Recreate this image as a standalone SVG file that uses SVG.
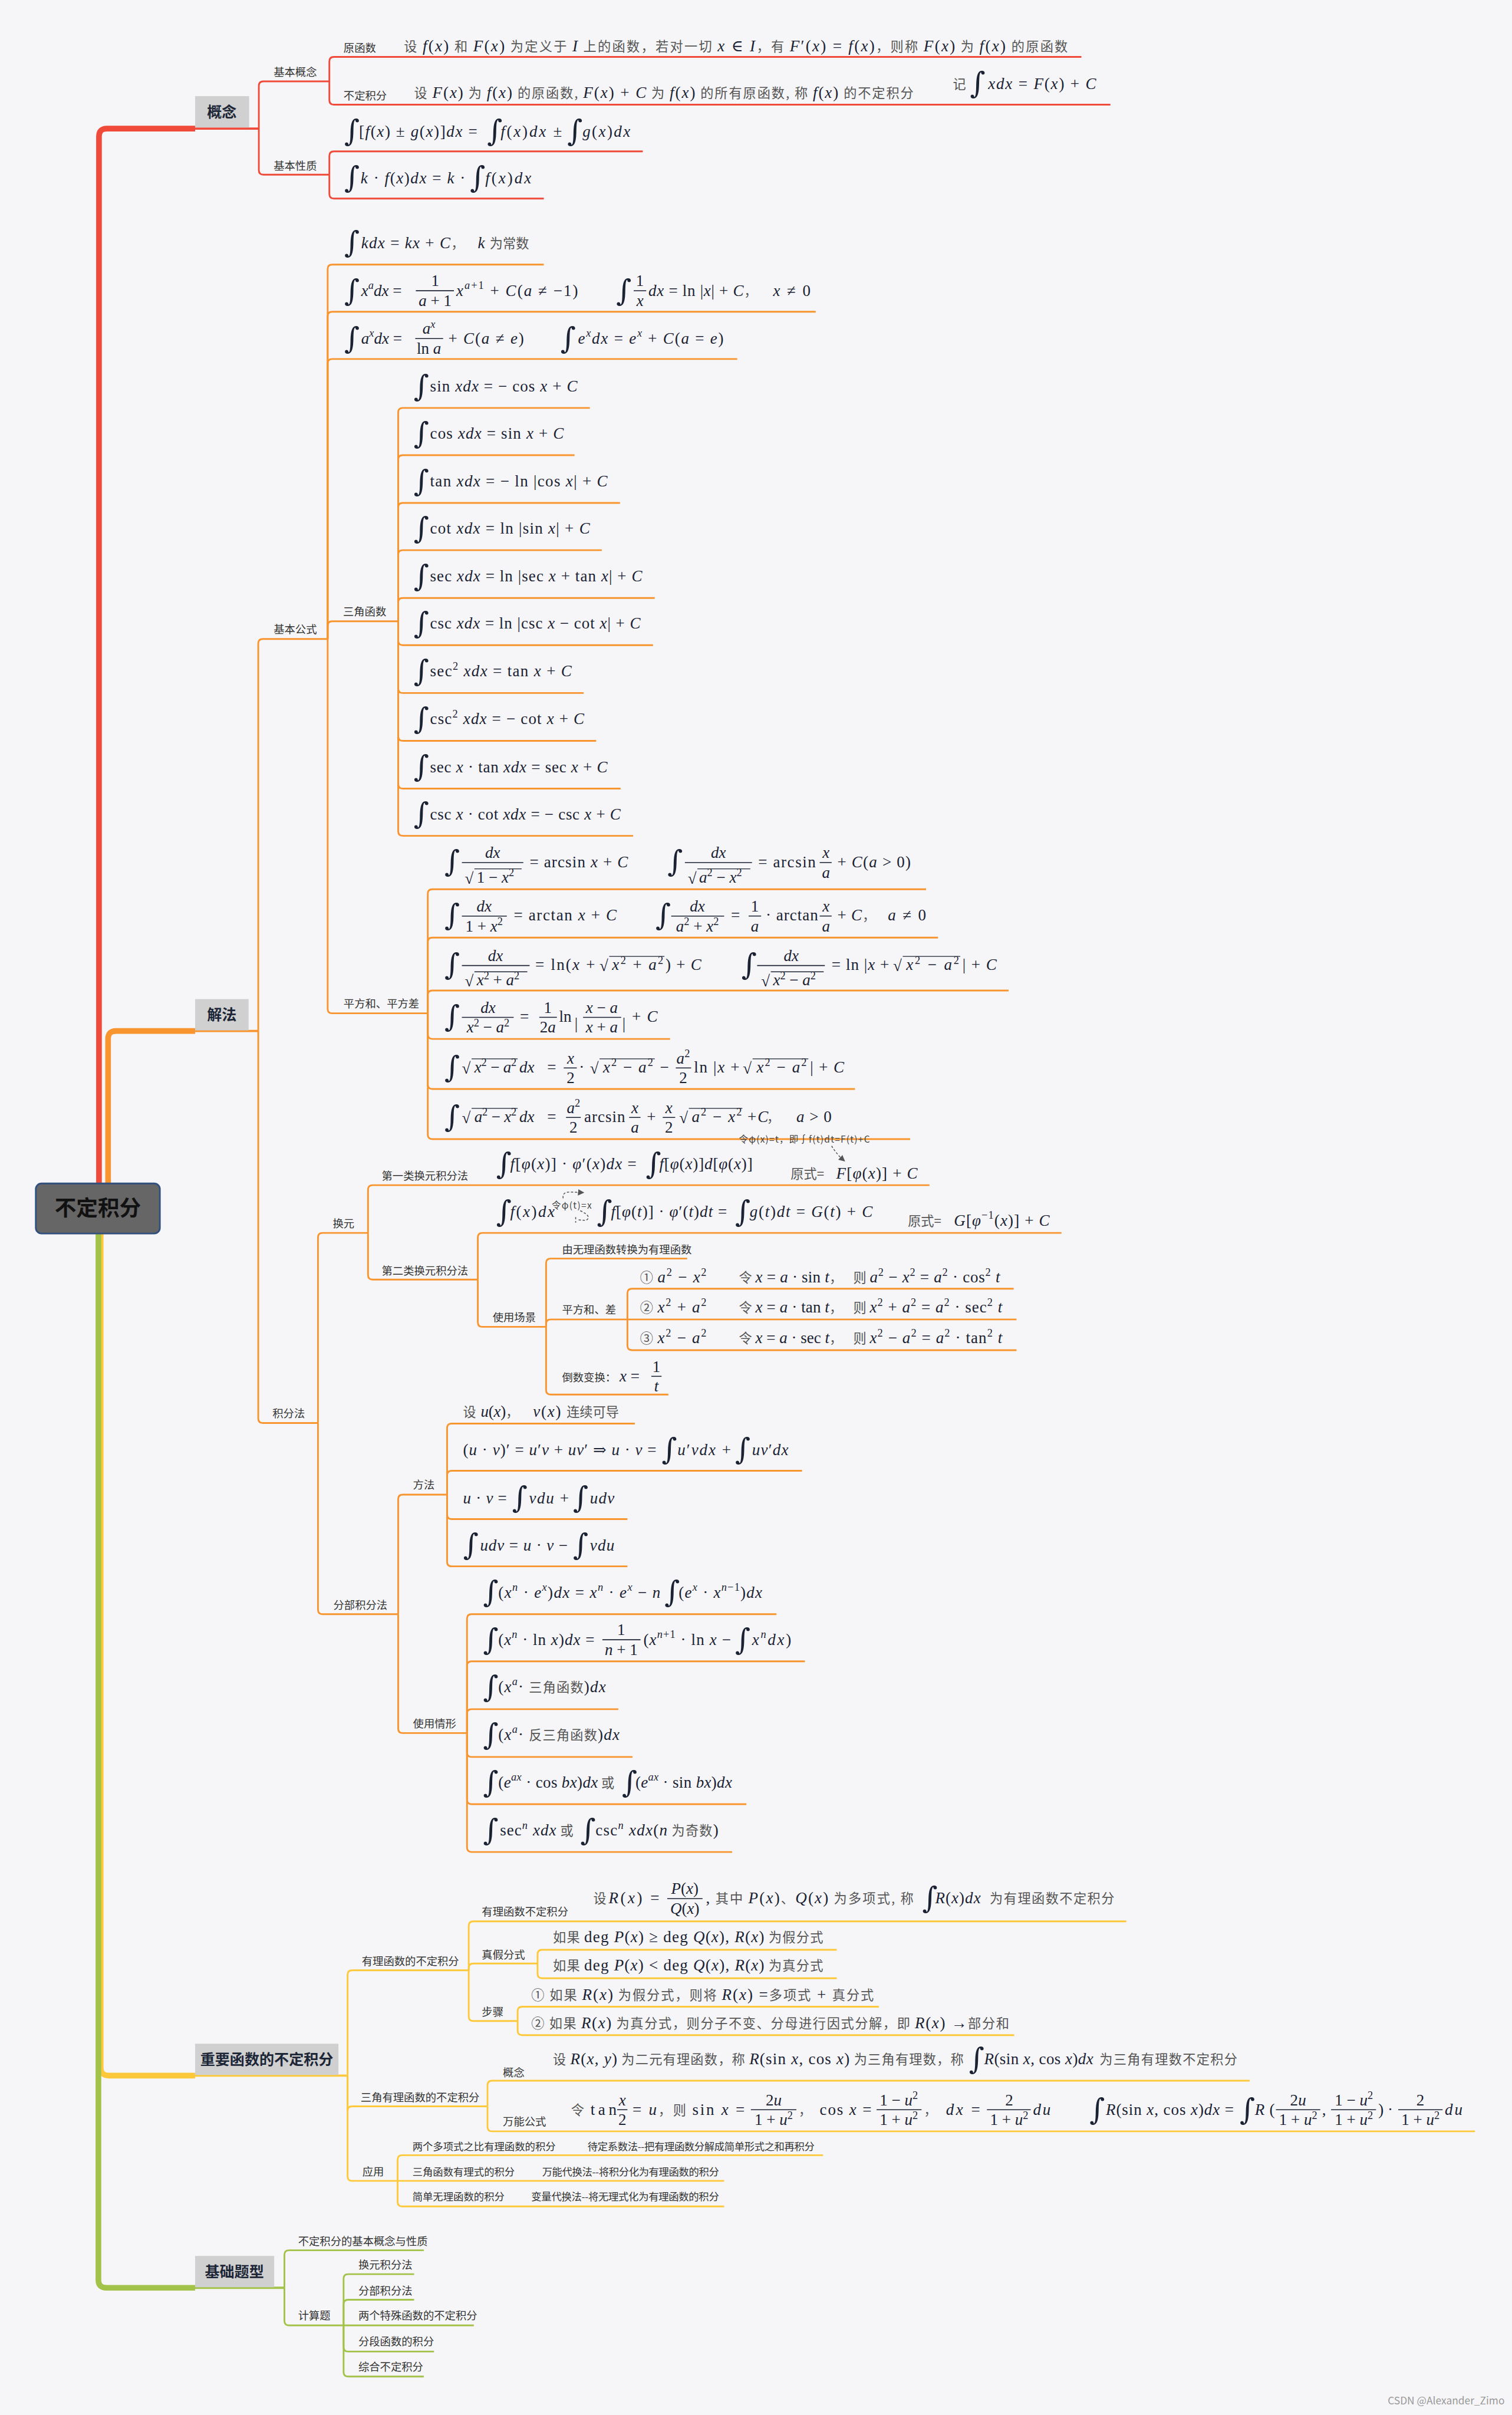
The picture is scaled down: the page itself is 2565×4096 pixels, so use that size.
<svg xmlns="http://www.w3.org/2000/svg" width="2565" height="4096" viewBox="0 0 2565 4096">
<defs>
<style>
.m{font-family:"Liberation Serif","DejaVu Serif",serif;font-size:28px;fill:#1a2233}
.i{font-style:italic}
.s{font-size:19px}
.z{font-family:"Noto Sans CJK SC","Noto Sans",sans-serif;font-size:23px;fill:#555;font-style:normal}
.g{font-family:"DejaVu Serif",serif;font-size:52px;fill:#1a2233}
.l{font-family:"Noto Sans CJK SC","Noto Sans",sans-serif;font-size:19px;fill:#333}
.p{font-family:"Noto Sans CJK SC","Noto Sans",sans-serif;font-size:18px;fill:#333}
.a{font-family:"Noto Sans CJK SC","Noto Sans",sans-serif;font-size:16px;fill:#444}
.t{font-family:"Noto Sans CJK SC","Noto Sans",sans-serif;font-size:26px;font-weight:bold;fill:#1c2636;text-anchor:middle}
.c{text-anchor:middle}
.fb{stroke:#1a2233;stroke-width:1.6}
.ov{stroke:#1a2233;stroke-width:1.4}
.cr{fill:none;stroke:#f04a3a;stroke-width:3}
.co{fill:none;stroke:#f8952e;stroke-width:3}
.cy{fill:none;stroke:#fdc93b;stroke-width:3}
.cg{fill:none;stroke:#a3c24a;stroke-width:3}
.box{fill:#d0d0d0}
.da{fill:none;stroke:#555;stroke-width:1.6;stroke-dasharray:4 3}
</style>
<marker id="ah" viewBox="0 0 10 10" refX="8" refY="5" markerWidth="7" markerHeight="7" orient="auto"><path d="M0,0 L10,5 L0,10 z" fill="#555"/></marker>
</defs>
<rect width="2565" height="4096" fill="#f6f6f8"/>
<g transform="scale(0.965)">

<g id="connectors">
<path d="M177,2168 V3634 Q177,3648 191,3648 H343" fill="none" stroke="#fdc93b" stroke-width="10"/>
<path d="M173,2168 V4007 Q173,4021 187,4021 H343" fill="none" stroke="#a3c24a" stroke-width="10"/>
<path d="M174,2080 V240 Q174,226 188,226 H343" fill="none" stroke="#f04a3a" stroke-width="10"/>
<path d="M190,2080 V1826 Q190,1812 204,1812 H343" fill="none" stroke="#f8952e" stroke-width="10"/>
<path d="M343,226 H455" fill="none" stroke="#f04a3a" stroke-width="4"/>
<path d="M343,1812 H454" fill="none" stroke="#f8952e" stroke-width="4"/>
<path d="M343,3648 H611" fill="none" stroke="#fdc93b" stroke-width="4"/>
<path d="M343,4021 H500" fill="none" stroke="#a3c24a" stroke-width="4"/>
<g class="cr">
<path d="M455,226 V151 Q455,143 463,143 H579"/>
<path d="M455,226 V299 Q455,307 463,307 H579"/>
<path d="M579,143 V108 Q579,100 587,100 H1901"/>
<path d="M579,143 V176 Q579,184 587,184 H1952"/>
<path d="M579,307 V274 Q579,266 587,266 H1130"/>
<path d="M579,307 V341 Q579,349 587,349 H956"/>
</g>
<g class="co">
<path d="M454,1812 V1131 Q454,1123 462,1123 H576"/>
<path d="M454,1812 V2493 Q454,2501 462,2501 H559"/>
<path d="M576,1123 V473 Q576,465 584,465 H956"/>
<path d="M576,1123 V556 Q576,548 584,548 H1434"/>
<path d="M576,1123 V639 Q576,631 584,631 H1296"/>
<path d="M576,1123 V1100 Q576,1092 584,1092 H700"/>
<path d="M576,1123 V1773 Q576,1781 584,1781 H752"/>
<path d="M700,1092 V725 Q700,717 708,717 H1037"/>
<path d="M700,1092 V808 Q700,800 708,800 H1010"/>
<path d="M700,1092 V892 Q700,884 708,884 H1090"/>
<path d="M700,1092 V975 Q700,967 708,967 H1058"/>
<path d="M700,1092 V1059 Q700,1051 708,1051 H1151"/>
<path d="M700,1092 V1126 Q700,1134 708,1134 H1148"/>
<path d="M700,1092 V1210 Q700,1218 708,1218 H1026"/>
<path d="M700,1092 V1294 Q700,1302 708,1302 H1048"/>
<path d="M700,1092 V1378 Q700,1386 708,1386 H1091"/>
<path d="M700,1092 V1461 Q700,1469 708,1469 H1113"/>
<path d="M752,1781 V1571 Q752,1563 760,1563 H1628"/>
<path d="M752,1781 V1656 Q752,1648 760,1648 H1649"/>
<path d="M752,1781 V1749 Q752,1741 760,1741 H1773"/>
<path d="M752,1781 V1818 Q752,1826 760,1826 H1178"/>
<path d="M752,1781 V1906 Q752,1914 760,1914 H1503"/>
<path d="M752,1781 V1994 Q752,2002 760,2002 H1600"/>
<path d="M559,2501 V2175 Q559,2167 567,2167 H647"/>
<path d="M559,2501 V2829 Q559,2837 567,2837 H700"/>
<path d="M647,2167 V2091 Q647,2083 655,2083 H1634"/>
<path d="M647,2167 V2241 Q647,2249 655,2249 H840"/>
<path d="M840,2249 V2175 Q840,2167 848,2167 H1866"/>
<path d="M840,2249 V2324 Q840,2332 848,2332 H960"/>
<path d="M960,2332 V2220 Q960,2212 968,2212 H1208"/>
<path d="M960,2332 V2327 Q960,2319 968,2319 H1103"/>
<path d="M960,2332 V2443 Q960,2451 968,2451 H1175"/>
<path d="M1103,2319 V2273 Q1103,2265 1111,2265 H1782"/>
<path d="M1103,2319 H1787"/>
<path d="M1103,2319 V2365 Q1103,2373 1111,2373 H1787"/>
<path d="M700,2837 V2635 Q700,2627 708,2627 H786"/>
<path d="M700,2837 V3038 Q700,3046 708,3046 H821"/>
<path d="M786,2627 V2510 Q786,2502 794,2502 H1116"/>
<path d="M786,2627 V2593 Q786,2585 794,2585 H1410"/>
<path d="M786,2627 V2662 Q786,2670 794,2670 H1103"/>
<path d="M786,2627 V2745 Q786,2753 794,2753 H1103"/>
<path d="M821,3046 V2845 Q821,2837 829,2837 H1365"/>
<path d="M821,3046 V2928 Q821,2920 829,2920 H1415"/>
<path d="M821,3046 V3012 Q821,3004 829,3004 H1087"/>
<path d="M821,3046 V3080 Q821,3088 829,3088 H1112"/>
<path d="M821,3046 V3163 Q821,3171 829,3171 H1312"/>
<path d="M821,3046 V3247 Q821,3255 829,3255 H1287"/>
</g>
<g class="cy">
<path d="M611,3648 V3471 Q611,3463 619,3463 H824"/>
<path d="M611,3648 V3710 Q611,3702 619,3702 H857"/>
<path d="M611,3648 V3825 Q611,3833 619,3833 H699"/>
<path d="M824,3463 V3385 Q824,3377 832,3377 H1980"/>
<path d="M824,3463 V3459 Q824,3451 832,3451 H945"/>
<path d="M824,3463 V3544 Q824,3552 832,3552 H910"/>
<path d="M945,3451 V3435 Q945,3427 953,3427 H1471"/>
<path d="M945,3451 V3469 Q945,3477 953,3477 H1471"/>
<path d="M910,3552 V3535 Q910,3527 918,3527 H1545"/>
<path d="M910,3552 V3569 Q910,3577 918,3577 H1783"/>
<path d="M857,3702 V3665 Q857,3657 865,3657 H2197"/>
<path d="M857,3702 V3738 Q857,3746 865,3746 H2593"/>
<path d="M699,3833 V3796 Q699,3788 707,3788 H1447"/>
<path d="M699,3833 H1273"/>
<path d="M699,3833 V3870 Q699,3878 707,3878 H1273"/>
</g>
<g class="cg">
<path d="M500,4021 V3963 Q500,3955 508,3955 H745"/>
<path d="M500,4021 V4079 Q500,4087 508,4087 H604"/>
<path d="M604,4087 V4005 Q604,3997 612,3997 H728"/>
<path d="M604,4087 V4050 Q604,4042 612,4042 H728"/>
<path d="M604,4087 H833"/>
<path d="M604,4087 V4125 Q604,4133 612,4133 H763"/>
<path d="M604,4087 V4169 Q604,4177 612,4177 H745"/>
</g>
<path class="da" d="M1462,2014 Q1470,2028 1484,2040" marker-end="url(#ah)"/>
<path class="da" d="M990,2106 Q988,2095 1002,2095 L1025,2096" marker-end="url(#ah)"/>
<path class="da" d="M1020,2128 Q1042,2138 1030,2145 L1015,2144"/>
<path class="da" d="M1012,2139 V2149"/>
</g>

<g id="root">
<rect x="63" y="2080" width="218" height="88" rx="10" fill="#666666" stroke="#32507e" stroke-width="3"/>
<text x="172" y="2137" text-anchor="middle" font-family="Noto Sans CJK SC, sans-serif" font-size="38" font-weight="bold" fill="#111">不定积分</text>
</g>

<g id="n-gainian"><rect class="box" x="343" y="169" width="95" height="55"/><text class="t" x="390" y="206">概念</text></g>
<g id="n-jiefa"><rect class="box" x="343" y="1756" width="94" height="55"/><text class="t" x="390" y="1793">解法</text></g>
<g id="n-zhongyao"><rect class="box" x="343" y="3592" width="252" height="55"/><text class="t" x="469" y="3629">重要函数的不定积分</text></g>
<g id="n-jichu"><rect class="box" x="343" y="3965" width="139" height="55"/><text class="t" x="412" y="4002">基础题型</text></g>

<g id="n-labels">
<text class="l" x="481" y="134">基本概念</text>
<text class="l" x="481" y="298">基本性质</text>
<text class="l" x="604" y="91">原函数</text>
<text class="l" x="604" y="175">不定积分</text>
<text class="l" x="481" y="1113">基本公式</text>
<text class="l" x="603" y="1082">三角函数</text>
<text class="l" x="604" y="1771">平方和、平方差</text>
<text class="l" x="479" y="2491">积分法</text>
<text class="l" x="585" y="2157">换元</text>
<text class="l" x="671" y="2074">第一类换元积分法</text>
<text class="l" x="671" y="2240">第二类换元积分法</text>
<text class="l" x="866" y="2322">使用场景</text>
<text class="l" x="988" y="2203">由无理函数转换为有理函数</text>
<text class="l" x="988" y="2309">平方和、差</text>
<text class="l" x="988" y="2428">倒数变换：</text>
<text class="l" x="586" y="2828">分部积分法</text>
<text class="l" x="726" y="2617">方法</text>
<text class="l" x="726" y="3036">使用情形</text>
<text class="l" x="636" y="3454">有理函数的不定积分</text>
<text class="l" x="847" y="3367">有理函数不定积分</text>
<text class="l" x="847" y="3442">真假分式</text>
<text class="l" x="847" y="3543">步骤</text>
<text class="l" x="634" y="3693">三角有理函数的不定积分</text>
<text class="l" x="884" y="3650">概念</text>
<text class="l" x="884" y="3736">万能公式</text>
<text class="l" x="637" y="3824">应用</text>
<text class="l" x="524" y="3946">不定积分的基本概念与性质</text>
<text class="l" x="524" y="4077">计算题</text>
<text class="l" x="630" y="3988">换元积分法</text>
<text class="l" x="630" y="4033">分部积分法</text>
<text class="l" x="630" y="4077">两个特殊函数的不定积分</text>
<text class="l" x="630" y="4122">分段函数的积分</text>
<text class="l" x="630" y="4167">综合不定积分</text>
</g>

<g id="n-concept">
<text class="m" x="710" y="90" textLength="1167"><tspan class="z">设 </tspan><tspan class="i">f</tspan>(<tspan class="i">x</tspan>)<tspan class="z"> 和 </tspan><tspan class="i">F</tspan>(<tspan class="i">x</tspan>)<tspan class="z"> 为定义于 </tspan><tspan class="i">I</tspan><tspan class="z"> 上的函数，若对一切 </tspan><tspan class="i">x</tspan> ∈ <tspan class="i">I</tspan><tspan class="z">，有 </tspan><tspan class="i">F</tspan>′(<tspan class="i">x</tspan>) = <tspan class="i">f</tspan>(<tspan class="i">x</tspan>)<tspan class="z">，则称 </tspan><tspan class="i">F</tspan>(<tspan class="i">x</tspan>)<tspan class="z"> 为 </tspan><tspan class="i">f</tspan>(<tspan class="i">x</tspan>)<tspan class="z"> 的原函数</tspan></text>
<text class="m" x="728" y="172" textLength="878"><tspan class="z">设 </tspan><tspan class="i">F</tspan>(<tspan class="i">x</tspan>)<tspan class="z"> 为 </tspan><tspan class="i">f</tspan>(<tspan class="i">x</tspan>)<tspan class="z"> 的原函数, </tspan><tspan class="i">F</tspan>(<tspan class="i">x</tspan>) + <tspan class="i">C</tspan><tspan class="z"> 为 </tspan><tspan class="i">f</tspan>(<tspan class="i">x</tspan>)<tspan class="z"> 的所有原函数, 称 </tspan><tspan class="i">f</tspan>(<tspan class="i">x</tspan>)<tspan class="z"> 的不定积分</tspan></text>
<text class="z" x="1675" y="156">记</text>
<text class="g" x="1705" y="164">∫</text>
<text class="m" x="1737" y="156" textLength="190"><tspan class="i">xdx</tspan> = <tspan class="i">F</tspan>(<tspan class="i">x</tspan>) + <tspan class="i">C</tspan></text>
<text class="g" x="605" y="248">∫</text>
<text class="m" x="631" y="240" textLength="208">[<tspan class="i">f</tspan>(<tspan class="i">x</tspan>) ± <tspan class="i">g</tspan>(<tspan class="i">x</tspan>)]<tspan class="i">dx</tspan> =</text>
<text class="g" x="856" y="248">∫</text>
<text class="m" x="880" y="240" textLength="108"><tspan class="i">f</tspan>(<tspan class="i">x</tspan>)<tspan class="i">dx</tspan> ±</text>
<text class="g" x="997" y="248">∫</text>
<text class="m" x="1024" y="240" textLength="84"><tspan class="i">g</tspan>(<tspan class="i">x</tspan>)<tspan class="i">dx</tspan></text>
<text class="g" x="605" y="330">∫</text>
<text class="m" x="634" y="322" textLength="184"><tspan class="i">k</tspan> · <tspan class="i">f</tspan>(<tspan class="i">x</tspan>)<tspan class="i">dx</tspan> = <tspan class="i">k</tspan> ·</text>
<text class="g" x="826" y="330">∫</text>
<text class="m" x="853" y="322" textLength="81"><tspan class="i">f</tspan>(<tspan class="i">x</tspan>)<tspan class="i">dx</tspan></text>
</g>

<g id="n-basic">
<text class="g" x="605" y="444">∫</text>
<text class="m" x="635" y="436" textLength="181"><tspan class="i">kdx</tspan> = <tspan class="i">kx</tspan> + <tspan class="i">C</tspan><tspan class="z">，</tspan></text>
<text class="m i" x="840" y="436">k</text><text class="z" x="861" y="436">为常数</text>

<text class="g" x="605" y="528">∫</text>
<text class="m" x="635" y="520"><tspan class="i">x</tspan><tspan class="s i" dy="-12">a</tspan><tspan class="i" dy="12">dx</tspan> =</text>
<text class="m c" x="765" y="503">1</text><line class="fb" x1="731" y1="511" x2="798" y2="511"/><text class="m c" x="765" y="538"><tspan class="i">a</tspan> + 1</text>
<text class="m" x="802" y="520" textLength="214"><tspan class="i">x</tspan><tspan class="s" dy="-12"><tspan class="i">a</tspan>+1</tspan><tspan dy="12"> + </tspan><tspan class="i">C</tspan>(<tspan class="i">a</tspan> ≠ −1)</text>
<text class="g" x="1083" y="528">∫</text>
<text class="m c" x="1125" y="503">1</text><line class="fb" x1="1114" y1="511" x2="1136" y2="511"/><text class="m c i" x="1125" y="538">x</text>
<text class="m" x="1140" y="520" textLength="191"><tspan class="i">dx</tspan> = ln |<tspan class="i">x</tspan>| + <tspan class="i">C</tspan><tspan class="z">，</tspan></text>
<text class="m" x="1359" y="520" textLength="66"><tspan class="i">x</tspan> ≠ 0</text>

<text class="g" x="605" y="612">∫</text>
<text class="m" x="635" y="604"><tspan class="i">a</tspan><tspan class="s i" dy="-12">x</tspan><tspan class="i" dy="12">dx</tspan> =</text>
<text class="m c" x="754" y="587"><tspan class="i">a</tspan><tspan class="s i" dy="-11">x</tspan></text><line class="fb" x1="730" y1="595" x2="779" y2="595"/><text class="m c" x="754" y="622">ln <tspan class="i">a</tspan></text>
<text class="m" x="788" y="604" textLength="133">+ <tspan class="i">C</tspan>(<tspan class="i">a</tspan> ≠ <tspan class="i">e</tspan>)</text>
<text class="g" x="985" y="612">∫</text>
<text class="m" x="1016" y="604" textLength="256"><tspan class="i">e</tspan><tspan class="s i" dy="-12">x</tspan><tspan class="i" dy="12">dx</tspan> = <tspan class="i">e</tspan><tspan class="s i" dy="-12">x</tspan><tspan dy="12"> + </tspan><tspan class="i">C</tspan>(<tspan class="i">a</tspan> = <tspan class="i">e</tspan>)</text>
</g>

<g id="n-trig">
<text class="g" x="727" y="696">∫</text><text class="m" x="756" y="688" textLength="259">sin <tspan class="i">xdx</tspan> = − cos <tspan class="i">x</tspan> + <tspan class="i">C</tspan></text>
<text class="g" x="727" y="779">∫</text><text class="m" x="756" y="771" textLength="235">cos <tspan class="i">xdx</tspan> = sin <tspan class="i">x</tspan> + <tspan class="i">C</tspan></text>
<text class="g" x="727" y="863">∫</text><text class="m" x="756" y="855" textLength="312">tan <tspan class="i">xdx</tspan> = − ln |cos <tspan class="i">x</tspan>| + <tspan class="i">C</tspan></text>
<text class="g" x="727" y="946">∫</text><text class="m" x="756" y="938" textLength="281">cot <tspan class="i">xdx</tspan> = ln |sin <tspan class="i">x</tspan>| + <tspan class="i">C</tspan></text>
<text class="g" x="727" y="1030">∫</text><text class="m" x="756" y="1022" textLength="373">sec <tspan class="i">xdx</tspan> = ln |sec <tspan class="i">x</tspan> + tan <tspan class="i">x</tspan>| + <tspan class="i">C</tspan></text>
<text class="g" x="727" y="1113">∫</text><text class="m" x="756" y="1105" textLength="370">csc <tspan class="i">xdx</tspan> = ln |csc <tspan class="i">x</tspan> − cot <tspan class="i">x</tspan>| + <tspan class="i">C</tspan></text>
<text class="g" x="727" y="1197">∫</text><text class="m" x="756" y="1189" textLength="249">sec<tspan class="s" dy="-12">2</tspan><tspan class="i" dy="12"> xdx</tspan> = tan <tspan class="i">x</tspan> + <tspan class="i">C</tspan></text>
<text class="g" x="727" y="1281">∫</text><text class="m" x="756" y="1273" textLength="271">csc<tspan class="s" dy="-12">2</tspan><tspan class="i" dy="12"> xdx</tspan> = − cot <tspan class="i">x</tspan> + <tspan class="i">C</tspan></text>
<text class="g" x="727" y="1365">∫</text><text class="m" x="756" y="1357" textLength="312">sec <tspan class="i">x</tspan> · tan <tspan class="i">xdx</tspan> = sec <tspan class="i">x</tspan> + <tspan class="i">C</tspan></text>
<text class="g" x="727" y="1448">∫</text><text class="m" x="756" y="1440" textLength="335">csc <tspan class="i">x</tspan> · cot <tspan class="i">xdx</tspan> = − csc <tspan class="i">x</tspan> + <tspan class="i">C</tspan></text>
</g>

<g id="n-squares">
<text class="g" x="781" y="1532">∫</text>
<text class="m c i" x="866" y="1508">dx</text><line class="fb" x1="812" y1="1516" x2="920" y2="1516"/>
<text class="m" x="817" y="1553">√</text><line class="ov" x1="834" y1="1527" x2="917" y2="1527"/><text class="m" x="838" y="1551">1 − <tspan class="i">x</tspan><tspan class="s" dy="-11">2</tspan></text>
<text class="m" x="931" y="1524" textLength="173">= arcsin <tspan class="i">x</tspan> + <tspan class="i">C</tspan></text>
<text class="g" x="1173" y="1532">∫</text>
<text class="m c i" x="1263" y="1508">dx</text><line class="fb" x1="1204" y1="1516" x2="1322" y2="1516"/>
<text class="m" x="1209" y="1553">√</text><line class="ov" x1="1226" y1="1527" x2="1319" y2="1527"/><text class="m" x="1229" y="1551"><tspan class="i">a</tspan><tspan class="s" dy="-11">2</tspan><tspan dy="11"> − </tspan><tspan class="i">x</tspan><tspan class="s" dy="-11">2</tspan></text>
<text class="m" x="1333" y="1524" textLength="101">= arcsin</text>
<text class="m c i" x="1452" y="1508">x</text><line class="fb" x1="1441" y1="1516" x2="1462" y2="1516"/><text class="m c i" x="1452" y="1543">a</text>
<text class="m" x="1472" y="1524" textLength="129">+ <tspan class="i">C</tspan>(<tspan class="i">a</tspan> &gt; 0)</text>

<text class="g" x="781" y="1626">∫</text>
<text class="m c i" x="851" y="1602">dx</text><line class="fb" x1="812" y1="1610" x2="891" y2="1610"/><text class="m c" x="851" y="1637">1 + <tspan class="i">x</tspan><tspan class="s" dy="-11">2</tspan></text>
<text class="m" x="903" y="1618" textLength="181">= arctan <tspan class="i">x</tspan> + <tspan class="i">C</tspan></text>
<text class="g" x="1152" y="1626">∫</text>
<text class="m c i" x="1226" y="1602">dx</text><line class="fb" x1="1180" y1="1610" x2="1273" y2="1610"/><text class="m c" x="1226" y="1637"><tspan class="i">a</tspan><tspan class="s" dy="-11">2</tspan><tspan dy="11"> + </tspan><tspan class="i">x</tspan><tspan class="s" dy="-11">2</tspan></text>
<text class="m" x="1285" y="1618">=</text>
<text class="m c" x="1327" y="1602">1</text><line class="fb" x1="1316" y1="1610" x2="1338" y2="1610"/><text class="m c i" x="1327" y="1637">a</text>
<text class="m" x="1346" y="1618" textLength="92">· arctan</text>
<text class="m c i" x="1452" y="1602">x</text><line class="fb" x1="1441" y1="1610" x2="1462" y2="1610"/><text class="m c i" x="1452" y="1637">a</text>
<text class="m" x="1472" y="1618" textLength="67">+ <tspan class="i">C</tspan><tspan class="z">，</tspan></text>
<text class="m" x="1561" y="1618" textLength="67"><tspan class="i">a</tspan> ≠ 0</text>

<text class="g" x="781" y="1713">∫</text>
<text class="m c i" x="871" y="1689">dx</text><line class="fb" x1="812" y1="1697" x2="931" y2="1697"/>
<text class="m" x="817" y="1734">√</text><line class="ov" x1="834" y1="1708" x2="927" y2="1708"/><text class="m" x="838" y="1732"><tspan class="i">x</tspan><tspan class="s" dy="-11">2</tspan><tspan dy="11"> + </tspan><tspan class="i">a</tspan><tspan class="s" dy="-11">2</tspan></text>
<text class="m" x="941" y="1705" textLength="105">= ln(<tspan class="i">x</tspan> +</text>
<text class="m" x="1054" y="1707">√</text><line class="ov" x1="1071" y1="1681" x2="1168" y2="1681"/><text class="m" x="1076" y="1705" textLength="90"><tspan class="i">x</tspan><tspan class="s" dy="-11">2</tspan><tspan dy="11"> + </tspan><tspan class="i">a</tspan><tspan class="s" dy="-11">2</tspan></text>
<text class="m" x="1170" y="1705" textLength="63">) + <tspan class="i">C</tspan></text>
<text class="g" x="1303" y="1713">∫</text>
<text class="m c i" x="1391" y="1689">dx</text><line class="fb" x1="1331" y1="1697" x2="1450" y2="1697"/>
<text class="m" x="1338" y="1734">√</text><line class="ov" x1="1355" y1="1708" x2="1448" y2="1708"/><text class="m" x="1359" y="1732"><tspan class="i">x</tspan><tspan class="s" dy="-11">2</tspan><tspan dy="11"> − </tspan><tspan class="i">a</tspan><tspan class="s" dy="-11">2</tspan></text>
<text class="m" x="1462" y="1705" textLength="101">= ln |<tspan class="i">x</tspan> +</text>
<text class="m" x="1570" y="1707">√</text><line class="ov" x1="1587" y1="1681" x2="1688" y2="1681"/><text class="m" x="1593" y="1705" textLength="93"><tspan class="i">x</tspan><tspan class="s" dy="-11">2</tspan><tspan dy="11"> − </tspan><tspan class="i">a</tspan><tspan class="s" dy="-11">2</tspan></text>
<text class="m" x="1692" y="1705" textLength="60">| + <tspan class="i">C</tspan></text>

<text class="g" x="781" y="1804">∫</text>
<text class="m c i" x="858" y="1780">dx</text><line class="fb" x1="812" y1="1788" x2="903" y2="1788"/><text class="m c" x="858" y="1815"><tspan class="i">x</tspan><tspan class="s" dy="-11">2</tspan><tspan dy="11"> − </tspan><tspan class="i">a</tspan><tspan class="s" dy="-11">2</tspan></text>
<text class="m" x="914" y="1796">=</text>
<text class="m c" x="963" y="1780">1</text><line class="fb" x1="948" y1="1788" x2="979" y2="1788"/><text class="m c" x="963" y="1815">2<tspan class="i">a</tspan></text>
<text class="m" x="983" y="1796">ln</text>
<text class="m" x="1010" y="1808" font-size="46">|</text>
<text class="m c" x="1058" y="1780"><tspan class="i">x</tspan> − <tspan class="i">a</tspan></text><line class="fb" x1="1025" y1="1788" x2="1092" y2="1788"/><text class="m c" x="1058" y="1815"><tspan class="i">x</tspan> + <tspan class="i">a</tspan></text>
<text class="m" x="1094" y="1808" font-size="46">|</text>
<text class="m" x="1111" y="1796" textLength="45">+ <tspan class="i">C</tspan></text>

<text class="g" x="781" y="1893">∫</text>
<text class="m" x="812" y="1887">√</text><line class="ov" x1="829" y1="1861" x2="910" y2="1861"/><text class="m" x="834" y="1885" textLength="74"><tspan class="i">x</tspan><tspan class="s" dy="-11">2</tspan><tspan dy="11"> − </tspan><tspan class="i">a</tspan><tspan class="s" dy="-11">2</tspan></text>
<text class="m i" x="913" y="1885">dx</text><text class="m" x="962" y="1885">=</text>
<text class="m c i" x="1003" y="1869">x</text><line class="fb" x1="991" y1="1877" x2="1014" y2="1877"/><text class="m c" x="1003" y="1904">2</text>
<text class="m" x="1018" y="1885">·</text>
<text class="m" x="1037" y="1887">√</text><line class="ov" x1="1054" y1="1861" x2="1151" y2="1861"/><text class="m" x="1060" y="1885" textLength="88"><tspan class="i">x</tspan><tspan class="s" dy="-11">2</tspan><tspan dy="11"> − </tspan><tspan class="i">a</tspan><tspan class="s" dy="-11">2</tspan></text>
<text class="m" x="1160" y="1885">−</text>
<text class="m c" x="1201" y="1869"><tspan class="i">a</tspan><tspan class="s" dy="-11">2</tspan></text><line class="fb" x1="1188" y1="1877" x2="1215" y2="1877"/><text class="m c" x="1201" y="1904">2</text>
<text class="m" x="1220" y="1885" textLength="80">ln |<tspan class="i">x</tspan> +</text>
<text class="m" x="1306" y="1887">√</text><line class="ov" x1="1323" y1="1861" x2="1421" y2="1861"/><text class="m" x="1330" y="1885" textLength="88"><tspan class="i">x</tspan><tspan class="s" dy="-11">2</tspan><tspan dy="11"> − </tspan><tspan class="i">a</tspan><tspan class="s" dy="-11">2</tspan></text>
<text class="m" x="1424" y="1885" textLength="60">| + <tspan class="i">C</tspan></text>

<text class="g" x="781" y="1980">∫</text>
<text class="m" x="812" y="1974">√</text><line class="ov" x1="829" y1="1948" x2="910" y2="1948"/><text class="m" x="834" y="1972" textLength="74"><tspan class="i">a</tspan><tspan class="s" dy="-11">2</tspan><tspan dy="11"> − </tspan><tspan class="i">x</tspan><tspan class="s" dy="-11">2</tspan></text>
<text class="m i" x="913" y="1972">dx</text><text class="m" x="962" y="1972">=</text>
<text class="m c" x="1008" y="1956"><tspan class="i">a</tspan><tspan class="s" dy="-11">2</tspan></text><line class="fb" x1="995" y1="1964" x2="1021" y2="1964"/><text class="m c" x="1008" y="1991">2</text>
<text class="m" x="1027" y="1972" textLength="72">arcsin</text>
<text class="m c i" x="1116" y="1956">x</text><line class="fb" x1="1106" y1="1964" x2="1126" y2="1964"/><text class="m c i" x="1116" y="1991">a</text>
<text class="m" x="1137" y="1972">+</text>
<text class="m c i" x="1176" y="1956">x</text><line class="fb" x1="1165" y1="1964" x2="1187" y2="1964"/><text class="m c" x="1176" y="1991">2</text>
<text class="m" x="1194" y="1974">√</text><line class="ov" x1="1211" y1="1948" x2="1305" y2="1948"/><text class="m" x="1216" y="1972" textLength="88"><tspan class="i">a</tspan><tspan class="s" dy="-11">2</tspan><tspan dy="11"> − </tspan><tspan class="i">x</tspan><tspan class="s" dy="-11">2</tspan></text>
<text class="m" x="1314" y="1972" textLength="57">+ <tspan class="i">C</tspan><tspan class="z">，</tspan></text>
<text class="m" x="1400" y="1972" textLength="62"><tspan class="i">a</tspan> &gt; 0</text>
</g>

<g id="n-subst">
<text class="a" x="1299" y="2008" textLength="230">令φ(x)=t，即∫f(t)dt=F(t)+C</text>
<text class="g" x="872" y="2063">∫</text>
<text class="m" x="897" y="2055" textLength="222"><tspan class="i">f</tspan>[<tspan class="i">φ</tspan>(<tspan class="i">x</tspan>)] · <tspan class="i">φ</tspan>′(<tspan class="i">x</tspan>)<tspan class="i">dx</tspan> =</text>
<text class="g" x="1135" y="2063">∫</text>
<text class="m" x="1159" y="2055" textLength="164"><tspan class="i">f</tspan>[<tspan class="i">φ</tspan>(<tspan class="i">x</tspan>)]<tspan class="i">d</tspan>[<tspan class="i">φ</tspan>(<tspan class="i">x</tspan>)]</text>
<text class="z" x="1390" y="2071">原式=</text>
<text class="m" x="1470" y="2071" textLength="143"><tspan class="i">F</tspan>[<tspan class="i">φ</tspan>(<tspan class="i">x</tspan>)] + <tspan class="i">C</tspan></text>

<text class="g" x="872" y="2147">∫</text>
<text class="m" x="897" y="2139" textLength="78"><tspan class="i">f</tspan>(<tspan class="i">x</tspan>)<tspan class="i">dx</tspan></text>
<text class="a" x="970" y="2124" textLength="70">令φ(t)=x</text>
<text class="g" x="1049" y="2147">∫</text>
<text class="m" x="1074" y="2139" textLength="204"><tspan class="i">f</tspan>[<tspan class="i">φ</tspan>(<tspan class="i">t</tspan>)] · <tspan class="i">φ</tspan>′(<tspan class="i">t</tspan>)<tspan class="i">dt</tspan> =</text>
<text class="g" x="1292" y="2147">∫</text>
<text class="m" x="1318" y="2139" textLength="216"><tspan class="i">g</tspan>(<tspan class="i">t</tspan>)<tspan class="i">dt</tspan> = <tspan class="i">G</tspan>(<tspan class="i">t</tspan>) + <tspan class="i">C</tspan></text>
<text class="z" x="1596" y="2154">原式=</text>
<text class="m" x="1677" y="2154" textLength="168"><tspan class="i">G</tspan>[<tspan class="i">φ</tspan><tspan class="s" dy="-12">−1</tspan><tspan dy="12">(</tspan><tspan class="i">x</tspan>)] + <tspan class="i">C</tspan></text>

<text class="z" x="1125" y="2254">①</text>
<text class="m" x="1156" y="2254" textLength="86"><tspan class="i">a</tspan><tspan class="s" dy="-12">2</tspan><tspan dy="12"> − </tspan><tspan class="i">x</tspan><tspan class="s" dy="-12">2</tspan></text>
<text class="z" x="1299" y="2254">令</text>
<text class="m" x="1328" y="2254" textLength="153"><tspan class="i">x</tspan> = <tspan class="i">a</tspan> · sin <tspan class="i">t</tspan><tspan class="z">，</tspan></text>
<text class="z" x="1500" y="2254">则</text>
<text class="m" x="1529" y="2254" textLength="229"><tspan class="i">a</tspan><tspan class="s" dy="-12">2</tspan><tspan dy="12"> − </tspan><tspan class="i">x</tspan><tspan class="s" dy="-12">2</tspan><tspan dy="12"> = </tspan><tspan class="i">a</tspan><tspan class="s" dy="-12">2</tspan><tspan dy="12"> · cos</tspan><tspan class="s" dy="-12">2</tspan><tspan class="i" dy="12"> t</tspan></text>

<text class="z" x="1125" y="2307">②</text>
<text class="m" x="1156" y="2307" textLength="86"><tspan class="i">x</tspan><tspan class="s" dy="-12">2</tspan><tspan dy="12"> + </tspan><tspan class="i">a</tspan><tspan class="s" dy="-12">2</tspan></text>
<text class="z" x="1299" y="2307">令</text>
<text class="m" x="1328" y="2307" textLength="153"><tspan class="i">x</tspan> = <tspan class="i">a</tspan> · tan <tspan class="i">t</tspan><tspan class="z">，</tspan></text>
<text class="z" x="1500" y="2307">则</text>
<text class="m" x="1529" y="2307" textLength="233"><tspan class="i">x</tspan><tspan class="s" dy="-12">2</tspan><tspan dy="12"> + </tspan><tspan class="i">a</tspan><tspan class="s" dy="-12">2</tspan><tspan dy="12"> = </tspan><tspan class="i">a</tspan><tspan class="s" dy="-12">2</tspan><tspan dy="12"> · sec</tspan><tspan class="s" dy="-12">2</tspan><tspan class="i" dy="12"> t</tspan></text>

<text class="z" x="1125" y="2361">③</text>
<text class="m" x="1156" y="2361" textLength="86"><tspan class="i">x</tspan><tspan class="s" dy="-12">2</tspan><tspan dy="12"> − </tspan><tspan class="i">a</tspan><tspan class="s" dy="-12">2</tspan></text>
<text class="z" x="1299" y="2361">令</text>
<text class="m" x="1328" y="2361" textLength="153"><tspan class="i">x</tspan> = <tspan class="i">a</tspan> · sec <tspan class="i">t</tspan><tspan class="z">，</tspan></text>
<text class="z" x="1500" y="2361">则</text>
<text class="m" x="1529" y="2361" textLength="233"><tspan class="i">x</tspan><tspan class="s" dy="-12">2</tspan><tspan dy="12"> − </tspan><tspan class="i">a</tspan><tspan class="s" dy="-12">2</tspan><tspan dy="12"> = </tspan><tspan class="i">a</tspan><tspan class="s" dy="-12">2</tspan><tspan dy="12"> · tan</tspan><tspan class="s" dy="-12">2</tspan><tspan class="i" dy="12"> t</tspan></text>

<text class="m" x="1089" y="2428"><tspan class="i">x</tspan> =</text>
<text class="m c" x="1154" y="2411">1</text><line class="fb" x1="1145" y1="2419" x2="1163" y2="2419"/><text class="m c i" x="1154" y="2446">t</text>
</g>

<g id="n-parts">
<text class="z" x="814" y="2490">设</text>
<text class="m" x="845" y="2490" textLength="67"><tspan class="i">u</tspan>(<tspan class="i">x</tspan>)<tspan class="z">，</tspan></text>
<text class="m" x="937" y="2490" textLength="49"><tspan class="i">v</tspan>(<tspan class="i">x</tspan>)</text>
<text class="z" x="996" y="2490">连续可导</text>

<text class="m" x="814" y="2557" textLength="340">(<tspan class="i">u</tspan> · <tspan class="i">v</tspan>)′ = <tspan class="i">u</tspan>′<tspan class="i">v</tspan> + <tspan class="i">uv</tspan>′ ⇒ <tspan class="i">u</tspan> · <tspan class="i">v</tspan> =</text>
<text class="g" x="1163" y="2565">∫</text>
<text class="m" x="1191" y="2557" textLength="94"><tspan class="i">u</tspan>′<tspan class="i">vdx</tspan> +</text>
<text class="g" x="1292" y="2565">∫</text>
<text class="m" x="1322" y="2557" textLength="64"><tspan class="i">uv</tspan>′<tspan class="i">dx</tspan></text>

<text class="m" x="814" y="2642" textLength="77"><tspan class="i">u</tspan> · <tspan class="i">v</tspan> =</text>
<text class="g" x="900" y="2650">∫</text>
<text class="m" x="930" y="2642" textLength="70"><tspan class="i">vdu</tspan> +</text>
<text class="g" x="1007" y="2650">∫</text>
<text class="m i" x="1037" y="2642" textLength="43">udv</text>

<text class="g" x="814" y="2733">∫</text>
<text class="m" x="844" y="2725" textLength="154"><tspan class="i">udv</tspan> = <tspan class="i">u</tspan> · <tspan class="i">v</tspan> −</text>
<text class="g" x="1007" y="2733">∫</text>
<text class="m i" x="1037" y="2725" textLength="43">vdu</text>

<text class="g" x="849" y="2816">∫</text>
<text class="m" x="876" y="2808" textLength="285">(<tspan class="i">x</tspan><tspan class="s i" dy="-12">n</tspan><tspan dy="12"> · </tspan><tspan class="i">e</tspan><tspan class="s i" dy="-12">x</tspan><tspan dy="12">)</tspan><tspan class="i">dx</tspan> = <tspan class="i">x</tspan><tspan class="s i" dy="-12">n</tspan><tspan dy="12"> · </tspan><tspan class="i">e</tspan><tspan class="s i" dy="-12">x</tspan><tspan dy="12"> − </tspan><tspan class="i">n</tspan></text>
<text class="g" x="1168" y="2816">∫</text>
<text class="m" x="1193" y="2808" textLength="147">(<tspan class="i">e</tspan><tspan class="s i" dy="-12">x</tspan><tspan dy="12"> · </tspan><tspan class="i">x</tspan><tspan class="s" dy="-12"><tspan class="i">n</tspan>−1</tspan><tspan dy="12">)</tspan><tspan class="i">dx</tspan></text>

<text class="g" x="849" y="2899">∫</text>
<text class="m" x="876" y="2891" textLength="169">(<tspan class="i">x</tspan><tspan class="s i" dy="-12">n</tspan><tspan dy="12"> · ln </tspan><tspan class="i">x</tspan>)<tspan class="i">dx</tspan> =</text>
<text class="m c" x="1092" y="2874">1</text><line class="fb" x1="1059" y1="2882" x2="1126" y2="2882"/><text class="m c" x="1092" y="2909"><tspan class="i">n</tspan> + 1</text>
<text class="m" x="1131" y="2891" textLength="154">(<tspan class="i">x</tspan><tspan class="s" dy="-12"><tspan class="i">n</tspan>+1</tspan><tspan dy="12"> · ln </tspan><tspan class="i">x</tspan> −</text>
<text class="g" x="1292" y="2899">∫</text>
<text class="m" x="1322" y="2891" textLength="69"><tspan class="i">x</tspan><tspan class="s i" dy="-12">n</tspan><tspan class="i" dy="12">dx</tspan>)</text>

<text class="g" x="849" y="2982">∫</text>
<text class="m" x="876" y="2974" textLength="189">(<tspan class="i">x</tspan><tspan class="s i" dy="-12">a</tspan><tspan dy="12">· </tspan><tspan class="z">三角函数</tspan>)<tspan class="i">dx</tspan></text>
<text class="g" x="849" y="3066">∫</text>
<text class="m" x="876" y="3058" textLength="213">(<tspan class="i">x</tspan><tspan class="s i" dy="-12">a</tspan><tspan dy="12">· </tspan><tspan class="z">反三角函数</tspan>)<tspan class="i">dx</tspan></text>

<text class="g" x="849" y="3150">∫</text>
<text class="m" x="876" y="3142" textLength="204">(<tspan class="i">e</tspan><tspan class="s i" dy="-12">ax</tspan><tspan dy="12"> · cos </tspan><tspan class="i">bx</tspan>)<tspan class="i">dx</tspan><tspan class="z"> 或</tspan></text>
<text class="g" x="1093" y="3150">∫</text>
<text class="m" x="1117" y="3142" textLength="170">(<tspan class="i">e</tspan><tspan class="s i" dy="-12">ax</tspan><tspan dy="12"> · sin </tspan><tspan class="i">bx</tspan>)<tspan class="i">dx</tspan></text>

<text class="g" x="849" y="3234">∫</text>
<text class="m" x="879" y="3226" textLength="129">sec<tspan class="s i" dy="-12">n</tspan><tspan class="i" dy="12"> xdx</tspan><tspan class="z"> 或</tspan></text>
<text class="g" x="1020" y="3234">∫</text>
<text class="m" x="1047" y="3226" textLength="216">csc<tspan class="s i" dy="-12">n</tspan><tspan class="i" dy="12"> xdx</tspan>(<tspan class="i">n</tspan><tspan class="z"> 为奇数</tspan>)</text>
</g>

<g id="n-rational">
<text class="z" x="1043" y="3345">设</text>
<text class="m" x="1070" y="3345" textLength="89"><tspan class="i">R</tspan>(<tspan class="i">x</tspan>) =</text>
<text class="m c" x="1204" y="3329"><tspan class="i">P</tspan>(<tspan class="i">x</tspan>)</text><line class="fb" x1="1173" y1="3337" x2="1235" y2="3337"/><text class="m c" x="1204" y="3364"><tspan class="i">Q</tspan>(<tspan class="i">x</tspan>)</text>
<text class="m" x="1241" y="3345" textLength="365">,<tspan class="z"> 其中 </tspan><tspan class="i">P</tspan>(<tspan class="i">x</tspan>)<tspan class="z">、</tspan><tspan class="i">Q</tspan>(<tspan class="i">x</tspan>)<tspan class="z"> 为多项式, 称</tspan></text>
<text class="g" x="1621" y="3353">∫</text>
<text class="m" x="1644" y="3345" textLength="80"><tspan class="i">R</tspan>(<tspan class="i">x</tspan>)<tspan class="i">dx</tspan></text>
<text class="z" x="1740" y="3345" textLength="219">为有理函数不定积分</text>

<text class="m" x="972" y="3413" textLength="475"><tspan class="z">如果 </tspan>deg <tspan class="i">P</tspan>(<tspan class="i">x</tspan>) ≥ deg <tspan class="i">Q</tspan>(<tspan class="i">x</tspan>), <tspan class="i">R</tspan>(<tspan class="i">x</tspan>)<tspan class="z"> 为假分式</tspan></text>
<text class="m" x="972" y="3463" textLength="475"><tspan class="z">如果 </tspan>deg <tspan class="i">P</tspan>(<tspan class="i">x</tspan>) &lt; deg <tspan class="i">Q</tspan>(<tspan class="i">x</tspan>), <tspan class="i">R</tspan>(<tspan class="i">x</tspan>)<tspan class="z"> 为真分式</tspan></text>
<text class="m" x="934" y="3515" textLength="602"><tspan class="z">① 如果 </tspan><tspan class="i">R</tspan>(<tspan class="i">x</tspan>)<tspan class="z"> 为假分式，则将 </tspan><tspan class="i">R</tspan>(<tspan class="i">x</tspan>) =<tspan class="z">多项式</tspan> + <tspan class="z">真分式</tspan></text>
<text class="m" x="934" y="3565" textLength="840"><tspan class="z">② 如果 </tspan><tspan class="i">R</tspan>(<tspan class="i">x</tspan>)<tspan class="z"> 为真分式，则分子不变、分母进行因式分解，即 </tspan><tspan class="i">R</tspan>(<tspan class="i">x</tspan>) →<tspan class="z">部分和</tspan></text>
</g>

<g id="n-trigrational">
<text class="m" x="972" y="3628" textLength="722"><tspan class="z">设 </tspan><tspan class="i">R</tspan>(<tspan class="i">x</tspan>, <tspan class="i">y</tspan>)<tspan class="z"> 为二元有理函数，称 </tspan><tspan class="i">R</tspan>(sin <tspan class="i">x</tspan>, cos <tspan class="i">x</tspan>)<tspan class="z"> 为三角有理数，称</tspan></text>
<text class="g" x="1703" y="3636">∫</text>
<text class="m" x="1730" y="3628" textLength="192"><tspan class="i">R</tspan>(sin <tspan class="i">x</tspan>, cos <tspan class="i">x</tspan>)<tspan class="i">dx</tspan></text>
<text class="z" x="1933" y="3628" textLength="242">为三角有理数不定积分</text>

<text class="z" x="1004" y="3717">令</text>
<text class="m" x="1038" y="3717" textLength="46">tan</text>
<text class="m c i" x="1094" y="3700">x</text><line class="fb" x1="1085" y1="3708" x2="1103" y2="3708"/><text class="m c" x="1094" y="3735">2</text>
<text class="m" x="1112" y="3717" textLength="197">= <tspan class="i">u</tspan><tspan class="z">，则 </tspan>sin <tspan class="i">x</tspan> =</text>
<text class="m c" x="1360" y="3700">2<tspan class="i">u</tspan></text><line class="fb" x1="1320" y1="3708" x2="1400" y2="3708"/><text class="m c" x="1360" y="3735">1 + <tspan class="i">u</tspan><tspan class="s" dy="-11">2</tspan></text>
<text class="z" x="1404" y="3717">，</text>
<text class="m" x="1441" y="3717" textLength="91">cos <tspan class="i">x</tspan> =</text>
<text class="m c" x="1580" y="3700">1 − <tspan class="i">u</tspan><tspan class="s" dy="-11">2</tspan></text><line class="fb" x1="1541" y1="3708" x2="1620" y2="3708"/><text class="m c" x="1580" y="3735">1 + <tspan class="i">u</tspan><tspan class="s" dy="-11">2</tspan></text>
<text class="z" x="1624" y="3717">，</text>
<text class="m" x="1663" y="3717" textLength="60"><tspan class="i">dx</tspan> =</text>
<text class="m c" x="1774" y="3700">2</text><line class="fb" x1="1735" y1="3708" x2="1812" y2="3708"/><text class="m c" x="1774" y="3735">1 + <tspan class="i">u</tspan><tspan class="s" dy="-11">2</tspan></text>
<text class="m i" x="1816" y="3717" textLength="31">du</text>
<text class="g" x="1915" y="3725">∫</text>
<text class="m" x="1944" y="3717" textLength="225"><tspan class="i">R</tspan>(sin <tspan class="i">x</tspan>, cos <tspan class="i">x</tspan>)<tspan class="i">dx</tspan> =</text>
<text class="g" x="2179" y="3725">∫</text>
<text class="m" x="2206" y="3717" textLength="35"><tspan class="i">R</tspan>(</text>
<text class="m c" x="2282" y="3700">2<tspan class="i">u</tspan></text><line class="fb" x1="2243" y1="3708" x2="2321" y2="3708"/><text class="m c" x="2282" y="3735">1 + <tspan class="i">u</tspan><tspan class="s" dy="-11">2</tspan></text>
<text class="m" x="2324" y="3717">,</text>
<text class="m c" x="2380" y="3700">1 − <tspan class="i">u</tspan><tspan class="s" dy="-11">2</tspan></text><line class="fb" x1="2340" y1="3708" x2="2419" y2="3708"/><text class="m c" x="2380" y="3735">1 + <tspan class="i">u</tspan><tspan class="s" dy="-11">2</tspan></text>
<text class="m" x="2423" y="3717">) ·</text>
<text class="m c" x="2497" y="3700">2</text><line class="fb" x1="2458" y1="3708" x2="2536" y2="3708"/><text class="m c" x="2497" y="3735">1 + <tspan class="i">u</tspan><tspan class="s" dy="-11">2</tspan></text>
<text class="m i" x="2540" y="3717" textLength="31">du</text>

<text class="p" x="725" y="3779">两个多项式之比有理函数的积分</text>
<text class="p" x="1033" y="3779" textLength="399">待定系数法--把有理函数分解成简单形式之和再积分</text>
<text class="p" x="725" y="3824">三角函数有理式的积分</text>
<text class="p" x="953" y="3824" textLength="311">万能代换法--将积分化为有理函数的积分</text>
<text class="p" x="725" y="3867">简单无理函数的积分</text>
<text class="p" x="934" y="3867" textLength="330">变量代换法--将无理式化为有理函数的积分</text>
</g>

<text x="2645" y="4226" text-anchor="end" font-family="Noto Sans CJK SC, sans-serif" font-size="18" fill="#999">CSDN @Alexander_Zimo</text>
</g>
</svg>
